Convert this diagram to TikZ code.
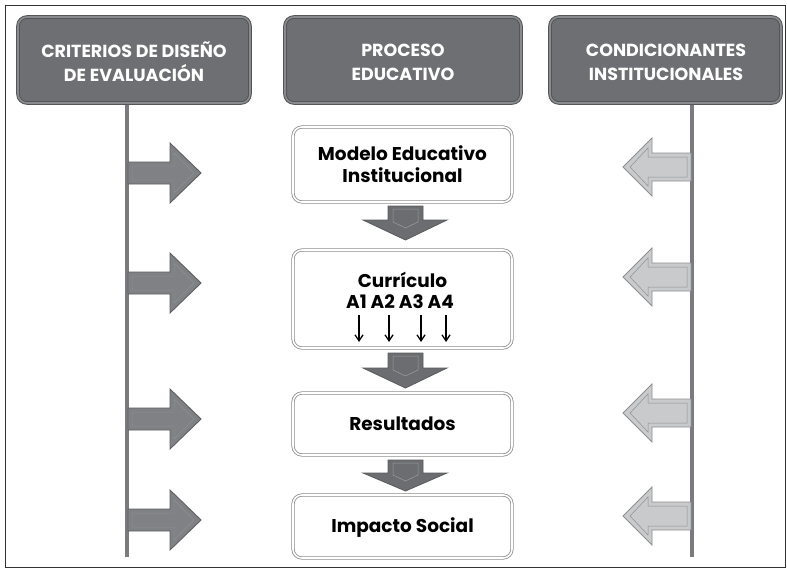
\documentclass[tikz,border=0pt]{standalone}
\usepackage{fontspec}
\usetikzlibrary{arrows.meta}
\setmainfont{Poppins}
\begin{document}
\begin{tikzpicture}[x=1pt,y=-1pt,
  hdr/.style={rounded corners=9pt, fill=hdrfill, draw=hdrline, line width=1pt, double=hdrdbl, double distance=1.6pt},
  pbox/.style={rounded corners=9pt, fill=white, draw=boxline, line width=0.8pt, double=white, double distance=1.6pt},
  hdrtxt/.style={text=white, font=\fontsize{17.5}{24}\selectfont\bfseries, align=center},
  boxtxt/.style={text=black, font=\fontsize{18.5}{22}\selectfont\bfseries, align=center},
  rarr/.style={fill=larrfill, draw=larrline, line width=0.9pt, line join=miter},
  larr/.style={fill=rarrfill, draw=rarrline, line width=0.9pt, line join=miter},
  darr/.style={fill=darrfill, draw=darrline, line width=0.8pt, line join=miter},
  vline/.style={draw=vcol, line width=3.2pt},
  small/.style={-{Straight Barb[length=6pt,width=8pt,line width=1.3pt]}, line width=1.4pt}
]
\definecolor{hdrfill}{HTML}{6E6F72}
\definecolor{hdrline}{HTML}{545557}
\definecolor{hdrdbl}{HTML}{8A8B8E}
\definecolor{boxline}{HTML}{8C8C8C}
\definecolor{larrfill}{HTML}{808184}
\definecolor{larrline}{HTML}{5E5F61}
\definecolor{rarrfill}{HTML}{C9CACC}
\definecolor{rarrline}{HTML}{8E8F91}
\definecolor{darrfill}{HTML}{6C6D70}
\definecolor{darrline}{HTML}{5A5B5D}
\definecolor{vcol}{HTML}{7A7B7E}
\useasboundingbox (0,0) rectangle (787,570);
\fill[white] (0,0) rectangle (787,570);
\draw[line width=1pt, draw=black!80] (5,5) rectangle (785,567);

% vertical lines
\coordinate (lt) at (127,103);
\coordinate (lb) at (127,557);
\coordinate (rt) at (692,103);
\coordinate (rb) at (692,557);
\draw[vline] (lt) -- (lb);
\draw[vline] (rt) -- (rb);

% headers
\draw[hdr] (18,17) rectangle (250,103);
\node[hdrtxt] (h1) at (134,62) {CRITERIOS DE DISEÑO\\DE EVALUACIÓN};
\draw[hdr] (285,17) rectangle (521,103);
\node[hdrtxt] (h2) at (403,62) {PROCESO\\EDUCATIVO};
\draw[hdr] (550,17) rectangle (781,103);
\node[hdrtxt] (h3) at (666,62) {CONDICIONANTES\\INSTITUCIONALES};

% left arrows (pointing right)
\foreach \yy in {173,283,419,520}{
  \draw[rarr] (128,\yy-11) -- (170,\yy-11) -- (170,\yy-30) -- (201,\yy) -- (170,\yy+30) -- (170,\yy+11) -- (128,\yy+11) -- cycle;
  \draw[draw=larrline!70!white, line width=0.5pt] (132,\yy-7) -- (174,\yy-7) -- (174,\yy-20) -- (194,\yy) -- (174,\yy+20) -- (174,\yy+7) -- (132,\yy+7) -- cycle;
}
% right arrows (pointing left)
\foreach \yy in {167,277,413,516}{
  \draw[larr] (691,\yy-14) -- (652,\yy-14) -- (652,\yy-29) -- (623,\yy) -- (652,\yy+29) -- (652,\yy+14) -- (691,\yy+14) -- cycle;
  \draw[draw=rarrline, line width=0.5pt] (687,\yy-10) -- (648,\yy-10) -- (648,\yy-19) -- (630,\yy) -- (648,\yy+19) -- (648,\yy+10) -- (687,\yy+10) -- cycle;
}

% process boxes
\draw[pbox] (293,127) rectangle (512,202);
\node[boxtxt] (b1) at (402.5,164) {Modelo Educativo\\Institucional};
\draw[pbox] (293,250) rectangle (512,348);
\node[boxtxt] (b2) at (402.5,280) {Currículo};
\node[boxtxt] (b2a) at (400,302) {A1 A2 A3 A4};
\draw[pbox] (293,393) rectangle (512,455);
\node[boxtxt] (b3) at (402.5,424) {Resultados};
\draw[pbox] (293,495) rectangle (512,558);
\node[boxtxt] (b4) at (402.5,528) {Impacto Social};

% small arrows
\foreach \xx in {359,389,421,446}{
  \coordinate (s\xx) at (\xx,315);
  \coordinate (e\xx) at (\xx,342);
  \draw[small] (s\xx) -- (e\xx);
}

% down arrows
\foreach \t/\h/\b in {206/220/240, 353/368/388, 460/473/491}{
  \draw[darr] (388,\t) -- (423,\t) -- (423,\h) -- (447,\h) -- (405.5,\b) -- (363,\h) -- (388,\h) -- cycle;
  \draw[draw=darrline!60!white, line width=0.5pt] (393,\t+3) -- (418,\t+3) -- (418,\h+2) -- (405.5,\h+8) -- (393,\h+2) -- cycle;
}
\end{tikzpicture}
\end{document}
